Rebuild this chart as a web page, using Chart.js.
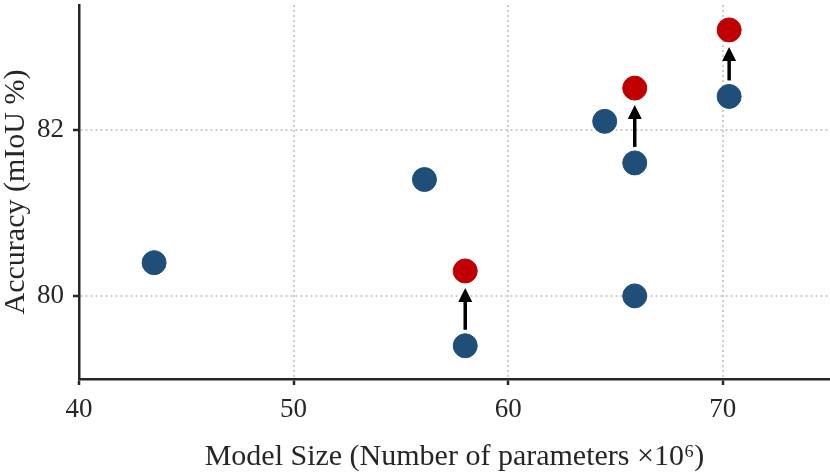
<!DOCTYPE html>
<html>
<head>
<meta charset="utf-8">
<script src="https://cdn.jsdelivr.net/npm/chart.js@4.4.1/dist/chart.umd.min.js"></script>
<style>
  html, body { margin: 0; padding: 0; background: #fff; }
  #wrap { width: 830px; height: 474px; }
</style>
</head>
<body>
<div id="wrap"><canvas id="canvas"></canvas></div>
<script>
// baseline models (blue)
const baseX = [43.5, 56.1, 58.0, 64.5, 65.9, 65.9, 70.3];
const baseY = [80.4, 81.4, 79.4, 82.1, 81.6, 80.0, 82.4];
// improved models (red)
const oursX = [58.0, 65.9, 70.3];
const oursY = [80.3, 82.5, 83.2];
// arrows go from these baseline points to the red ones
const arrowFromY = [79.4, 81.6, 82.4];

const xTicks = [40, 50, 60, 70];
const yTicks = [80, 82];

const serif = '"Liberation Serif", "DejaVu Serif", serif';
const axisColor = '#262626';

function toPoints(xs, ys) {
    return xs.map(function (x, i) { return { x: x, y: ys[i] }; });
}

// arrows between the pairs, drawn under the dots
const arrowPlugin = {
    id: 'arrows',
    beforeDatasetsDraw(chart) {
        const ctx = chart.ctx;
        const xs = chart.scales.x, ys = chart.scales.y;
        ctx.save();
        ctx.strokeStyle = '#000';
        ctx.fillStyle = '#000';
        ctx.lineWidth = 3.5;
        for (let i = 0; i < oursX.length; i++) {
            const px = xs.getPixelForValue(oursX[i]);
            const y0 = ys.getPixelForValue(arrowFromY[i]) - 16;
            const y1 = ys.getPixelForValue(oursY[i]) + 17;
            ctx.beginPath();
            ctx.moveTo(px, y0);
            ctx.lineTo(px, y1 + 10);
            ctx.stroke();
            ctx.beginPath();
            ctx.moveTo(px, y1);
            ctx.lineTo(px - 7, y1 + 14);
            ctx.lineTo(px + 7, y1 + 14);
            ctx.closePath();
            ctx.fill();
        }
        ctx.restore();
    }
};

// no extra room for half tick labels at the ends
function noPad(scale) {
    scale.paddingTop = 0;
    scale.paddingBottom = 0;
    scale.paddingLeft = 0;
    scale.paddingRight = 0;
}

const ctx = document.getElementById('canvas').getContext('2d');
const myChart = new Chart(ctx, {
    type: 'scatter',
    data: {
        datasets: [{
            label: 'Baseline',
            data: toPoints(baseX, baseY),
            backgroundColor: '#1f4e79',
            borderColor: '#1f4e79',
            pointRadius: 12,
            pointHoverRadius: 12
        }, {
            label: 'Ours',
            data: toPoints(oursX, oursY),
            backgroundColor: '#c00000',
            borderColor: '#c00000',
            pointRadius: 12,
            pointHoverRadius: 12
        }]
    },
    options: {
        responsive: true,
        maintainAspectRatio: false,
        animation: false,
        layout: { autoPadding: false, padding: { top: 5, right: 0, left: 0, bottom: 0 } },
        plugins: {
            legend: { display: false },
            tooltip: { enabled: false }
        },
        scales: {
            x: {
                type: 'linear',
                min: 40,
                max: 75,
                afterBuildTicks: function (scale) {
                    scale.ticks = xTicks.map(function (v) { return { value: v }; });
                },
                afterFit: function (scale) { scale.height = 95; noPad(scale); },
                grid: {
                    color: '#cccccc',
                    lineWidth: 2,
                    tickColor: axisColor,
                    tickWidth: 2.5,
                    tickLength: 6,
                    tickBorderDash: []
                },
                border: { color: axisColor, width: 2.5, dash: [2, 3] },
                ticks: {
                    color: axisColor,
                    padding: 9,
                    font: { family: serif, size: 27 }
                },
                title: {
                    display: true,
                    text: 'Model Size (Number of parameters ×10⁶)',
                    color: axisColor,
                    padding: { top: 0, bottom: 0 },
                    font: { family: serif, size: 30, lineHeight: 1.1 }
                }
            },
            y: {
                type: 'linear',
                min: 79,
                max: 83.5,
                afterBuildTicks: function (scale) {
                    scale.ticks = yTicks.map(function (v) { return { value: v }; });
                },
                afterFit: function (scale) { scale.width = 79; noPad(scale); },
                grid: {
                    color: '#cccccc',
                    lineWidth: 2,
                    tickColor: axisColor,
                    tickWidth: 2.5,
                    tickLength: 6,
                    tickBorderDash: []
                },
                border: { color: axisColor, width: 2.5, dash: [2, 3] },
                ticks: {
                    color: axisColor,
                    padding: 9,
                    font: { family: serif, size: 27 }
                },
                title: {
                    display: true,
                    text: 'Accuracy (mIoU %)',
                    color: axisColor,
                    padding: { top: 0, bottom: 0 },
                    font: { family: serif, size: 30, lineHeight: 1.1 }
                }
            }
        }
    },
    plugins: [arrowPlugin]
});
</script>
</body>
</html>
